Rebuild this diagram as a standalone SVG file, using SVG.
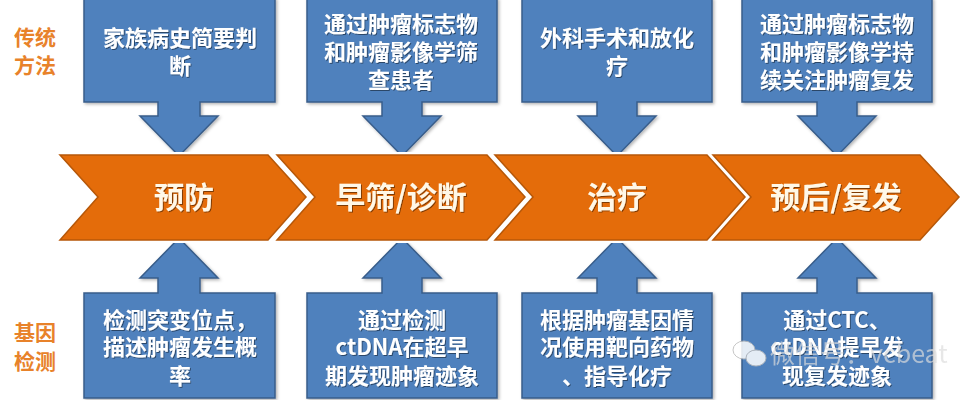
<svg xmlns="http://www.w3.org/2000/svg" width="962" height="400" viewBox="0 0 962 400">
<defs>
<style>
.box{fill:#4F81BD;stroke:#385D8A;stroke-width:1.5;}
.chev{fill:#E46C0A;stroke:#B65708;stroke-width:1.5;}
.halo{fill:none;stroke:#FFFFFF;stroke-width:6;stroke-linejoin:miter;}
.t{font-family:"Noto Sans CJK SC","Noto Sans",sans-serif;font-weight:bold;fill:#FFFFFF;text-anchor:middle;}
.bt{font-size:22px;}
.ct{font-size:30px;fill:#FFF8E8;}
.side{font-family:"Noto Sans CJK SC","Noto Sans",sans-serif;font-weight:bold;font-size:21px;fill:#E8822A;text-anchor:middle;}
.wm{font-family:"Noto Sans CJK SC","Noto Sans",sans-serif;font-size:25px;fill:#DDDDDD;opacity:0.8;}
</style>
<filter id="sh" x="-10%" y="-10%" width="130%" height="130%">
<feDropShadow dx="1" dy="1" stdDeviation="0.7" flood-color="#000" flood-opacity="0.45"/>
</filter>
<filter id="bs" x="-10%" y="-10%" width="130%" height="130%">
<feDropShadow dx="1.5" dy="1.5" stdDeviation="1.5" flood-color="#000" flood-opacity="0.3"/>
</filter>
</defs>
<rect width="962" height="400" fill="#FFFFFF"/>

<g id="side-labels">
<text class="side" x="35" y="45">传统</text>
<text class="side" x="35" y="73">方法</text>
<text class="side" x="35" y="340">基因</text>
<text class="side" x="35" y="369">检测</text>
</g>

<g id="connectors">
<g filter="url(#bs)">
<path class="box" d="M84,-2 H275 V102 H200 V116 H218 L179,156 L140,116 H158 V102 H84 Z"/>
<path class="box" d="M307,-2 H497 V102 H422 V116 H441 L402,156 L363,116 H382 V102 H307 Z"/>
<path class="box" d="M522,-2 H712 V102 H637 V116 H656 L617,156 L578,116 H597 V102 H522 Z"/>
<path class="box" d="M742,-2 H932 V102 H857 V116 H876 L837,156 L798,116 H817 V102 H742 Z"/>
<path class="box" d="M84,398 V293 H158 V278 H140 L179,238 L218,278 H200 V293 H275 V398 Z"/>
<path class="box" d="M307,398 V293 H382 V278 H363 L402,238 L441,278 H422 V293 H497 V398 Z"/>
<path class="box" d="M522,398 V293 H597 V278 H578 L617,238 L656,278 H637 V293 H712 V398 Z"/>
<path class="box" d="M742,398 V293 H817 V278 H798 L837,238 L876,278 H857 V293 H932 V398 Z"/>
</g>
</g>

<g id="stage-prevent">
<path class="halo" d="M60,155 H268 L306,197 L268,240 H60 L98,197 Z"/>
<path class="chev" d="M60,155 H268 L306,197 L268,240 H60 L98,197 Z"/>
<text class="t ct" x="184" y="208" filter="url(#sh)">预防</text>
</g>
<g id="stage-screen">
<path class="halo" d="M277,155 H487 L525,197 L487,240 H277 L315,197 Z"/>
<path class="chev" d="M277,155 H487 L525,197 L487,240 H277 L315,197 Z"/>
<text class="t ct" x="401" y="208" filter="url(#sh)">早筛/诊断</text>
</g>
<g id="stage-treat">
<path class="halo" d="M495,155 H707 L745,197 L707,240 H495 L533,197 Z"/>
<path class="chev" d="M495,155 H707 L745,197 L707,240 H495 L533,197 Z"/>
<text class="t ct" x="617" y="208" filter="url(#sh)">治疗</text>
</g>
<g id="stage-prognosis">
<path class="halo" d="M713,155 H920 L959,197 L920,240 H713 L751,197 Z"/>
<path class="chev" d="M713,155 H920 L959,197 L920,240 H713 L751,197 Z"/>
<text class="t ct" x="836" y="208" filter="url(#sh)">预后/复发</text>
</g>

<g id="top-1" filter="url(#sh)">
<text class="t bt" x="180" y="46">家族病史简要判</text>
<text class="t bt" x="180" y="74">断</text>
</g>
<g id="top-2" filter="url(#sh)">
<text class="t bt" x="401" y="32">通过肿瘤标志物</text>
<text class="t bt" x="401" y="60">和肿瘤影像学筛</text>
<text class="t bt" x="401" y="88">查患者</text>
</g>
<g id="top-3" filter="url(#sh)">
<text class="t bt" x="617" y="46">外科手术和放化</text>
<text class="t bt" x="617" y="74">疗</text>
</g>
<g id="top-4" filter="url(#sh)">
<text class="t bt" x="837" y="32">通过肿瘤标志物</text>
<text class="t bt" x="837" y="60">和肿瘤影像学持</text>
<text class="t bt" x="837" y="88">续关注肿瘤复发</text>
</g>

<g id="bottom-1" filter="url(#sh)">
<text class="t bt" x="180" y="328">检测突变位点，</text>
<text class="t bt" x="180" y="355">描述肿瘤发生概</text>
<text class="t bt" x="180" y="384">率</text>
</g>
<g id="bottom-2" filter="url(#sh)">
<text class="t bt" x="402" y="328">通过检测</text>
<text class="t bt" x="402" y="355">ctDNA在超早</text>
<text class="t bt" x="402" y="384">期发现肿瘤迹象</text>
</g>
<g id="bottom-3" filter="url(#sh)">
<text class="t bt" x="617" y="328">根据肿瘤基因情</text>
<text class="t bt" x="617" y="355">况使用靶向药物</text>
<text class="t bt" x="617" y="384">、指导化疗</text>
</g>
<g id="bottom-4" filter="url(#sh)">
<text class="t bt" x="837" y="328">通过CTC、</text>
<text class="t bt" x="837" y="355">ctDNA提早发</text>
<text class="t bt" x="837" y="384">现复发迹象</text>
</g>

<g id="watermark" opacity="0.85">
<ellipse cx="744" cy="350" rx="11" ry="9" fill="#FFFFFF" stroke="#BBBBBB" stroke-width="1"/>
<ellipse cx="756" cy="358" rx="10" ry="8" fill="#FFFFFF" stroke="#BBBBBB" stroke-width="1"/>
<text class="wm" x="770" y="363">微信号：vcbeat</text>
</g>
</svg>
